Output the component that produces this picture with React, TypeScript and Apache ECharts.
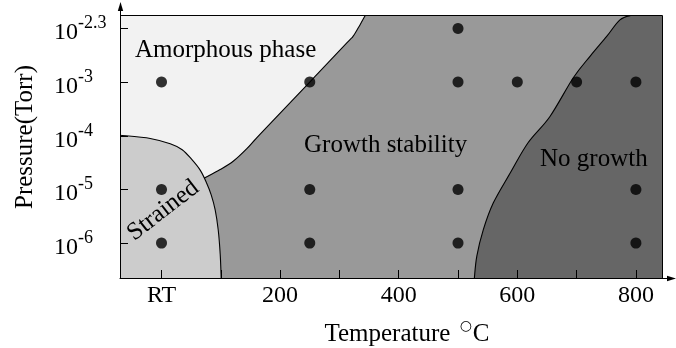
import React, { useEffect, useRef } from 'react';
import * as echarts from 'echarts';

// Axis ticks / labels
const xLabelValues = [0, 200, 400, 600, 800];
const xLabelTexts = ['RT', '200', '400', '600', '800'];
const xTickValues = [0, 100, 200, 300, 400, 500, 600, 700, 800];
const yLevels = [0, 1, 2, 3, 4];
const yExponents = ['-6', '-5', '-4', '-3', '-2.3'];

// Axis extents (temperature °C, pressure level index)
const xMin = -70;
const xMax = 844;
const yMin = -0.65;
const yMax = 4.25;

// Experimental sample points
const sampleTemps = [0, 0, 0, 250, 250, 250, 500, 500, 500, 500, 600, 700, 800, 800, 800];
const sampleLevels = [3, 1, 0, 3, 1, 0, 4, 3, 1, 0, 3, 3, 3, 1, 0];

// Phase boundaries [temperature, pressure level]
const strainedEdge = [
  [-70, 2.01], [-19, 1.95], [14.7, 1.85], [34.9, 1.74], [51.7, 1.55], [65.2, 1.36],
  [75.3, 1.14], [83.8, 0.9], [90.5, 0.62], [95.6, 0.25], [99, -0.21], [100.6, -0.65],
];
const amorphousEdge = [
  [72, 1.21], [98.9, 1.37], [121.4, 1.53], [143.9, 1.76], [166.4, 2.03], [250, 3.0],
  [312.5, 3.73], [323.6, 3.86], [334.9, 4.07], [344, 4.25],
];
const noGrowthEdge = [
  [527.6, -0.65], [531.6, -0.25], [542.7, 0.25], [559.6, 0.75], [587.7, 1.3], [618.1, 1.87],
  [655.1, 2.36], [694.4, 3.08], [722.6, 3.48], [750.7, 3.85], [773.1, 4.16], [794, 4.25],
];

const regionColors = { amorphous: '#f2f2f2', strained: '#cccccc', growth: '#999999', noGrowth: '#666666' };

const FONT = '"Liberation Serif", "Times New Roman", serif';

function curveThrough(pts: number[][]): string {
  let d = '';
  for (let i = 0; i < pts.length - 1; i++) {
    const p0 = pts[i - 1] || pts[i];
    const p1 = pts[i];
    const p2 = pts[i + 1];
    const p3 = pts[i + 2] || p2;
    const c1x = p1[0] + (p2[0] - p0[0]) / 6;
    const c1y = p1[1] + (p2[1] - p0[1]) / 6;
    const c2x = p2[0] - (p3[0] - p1[0]) / 6;
    const c2y = p2[1] - (p3[1] - p1[1]) / 6;
    d += ` C ${c1x} ${c1y} ${c2x} ${c2y} ${p2[0]} ${p2[1]}`;
  }
  return d;
}

function renderRegions(params: any, api: any) {
  const c = (p: number[]) => api.coord(p) as number[];
  const pt = (p: number[]) => `${p[0]} ${p[1]}`;

  const sPx = strainedEdge.map(c);
  const aPx = amorphousEdge.map(c);
  const nPx = noGrowthEdge.map(c);
  const junction = amorphousEdge[0];
  const lowerStrained = strainedEdge.filter((p) => p[1] < junction[1]).reverse();
  const lowerPx = [...lowerStrained, junction].map(c);

  const strainedPath = `M ${pt(c([xMin, yMin]))} L ${pt(sPx[0])}${curveThrough(sPx)} Z`;
  const growthPath =
    `M ${pt(aPx[0])}${curveThrough(aPx)} L ${pt(c([xMax, yMax]))} L ${pt(c([xMax, yMin]))} L ${pt(lowerPx[0])}${curveThrough(lowerPx)} Z`;
  const noGrowthPath = `M ${pt(nPx[0])}${curveThrough(nPx)} L ${pt(c([xMax, yMax]))} L ${pt(c([xMax, yMin]))} Z`;

  const edge = (px: number[][]) => ({
    type: 'path',
    shape: { pathData: `M ${pt(px[0])}${curveThrough(px)}` },
    style: { fill: 'none', stroke: '#000', lineWidth: 1.1 },
  });

  return {
    type: 'group',
    children: [
      { type: 'path', shape: { pathData: strainedPath }, style: { fill: regionColors.strained } },
      { type: 'path', shape: { pathData: growthPath }, style: { fill: regionColors.growth } },
      { type: 'path', shape: { pathData: noGrowthPath }, style: { fill: regionColors.noGrowth } },
      edge(sPx),
      edge(aPx),
      edge(nPx),
    ],
  };
}

const textStyleBase = { fontFamily: FONT, fill: '#000' };

const option: any = {
  animation: false,
  grid: {
    left: 120, top: 15, width: 542, height: 263,
    show: true, backgroundColor: regionColors.amorphous, borderWidth: 0,
  },
  xAxis: {
    type: 'value', min: xMin, max: xMax, z: 10,
    axisLine: { onZero: false, lineStyle: { color: '#000', width: 1 } },
    axisTick: { inside: true, length: 8, customValues: xTickValues, lineStyle: { color: '#000' } },
    axisLabel: {
      customValues: xLabelValues, margin: 4, fontSize: 24, color: '#000', fontFamily: FONT,
      formatter: (v: number) => xLabelTexts[xLabelValues.indexOf(v)],
    },
    splitLine: { show: false },
  },
  yAxis: {
    type: 'value', min: yMin, max: yMax, z: 10,
    axisLine: { show: true, onZero: false, lineStyle: { color: '#000', width: 1 } },
    axisTick: { show: true, inside: true, length: 8, customValues: yLevels, lineStyle: { color: '#000' } },
    axisLabel: {
      customValues: yLevels, align: 'left', margin: 66,
      formatter: (v: number) => `{b|10}{s|${yExponents[yLevels.indexOf(v)]}}`,
      rich: {
        b: { fontSize: 24, fontFamily: FONT, color: '#000', padding: [6, 0, 0, 0] },
        s: { fontSize: 18, fontFamily: FONT, color: '#000', verticalAlign: 'top' },
      },
    },
    splitLine: { show: false },
  },
  series: [
    {
      type: 'custom',
      renderItem: renderRegions,
      data: [0],
      clip: true,
      z: 1,
      silent: true,
    },
    {
      type: 'scatter',
      data: sampleTemps.map((t, i) => [t, sampleLevels[i]]),
      symbol: 'circle',
      symbolSize: 11,
      itemStyle: { color: '#000' },
      z: 5,
      silent: true,
    },
  ],
  graphic: [
    { type: 'line', z: 100, shape: { x1: 120, y1: 15.5, x2: 662.5, y2: 15.5 }, style: { stroke: '#000', lineWidth: 1 } },
    { type: 'line', z: 100, shape: { x1: 662.5, y1: 15.5, x2: 662.5, y2: 278 }, style: { stroke: '#000', lineWidth: 1 } },
    { type: 'line', z: 100, shape: { x1: 120.5, y1: 16, x2: 120.5, y2: 8 }, style: { stroke: '#000', lineWidth: 1 } },
    { type: 'polygon', z: 100, shape: { points: [[120.5, 2], [117.8, 11], [123.2, 11]] }, style: { fill: '#000' } },
    { type: 'line', z: 100, shape: { x1: 662, y1: 278.5, x2: 670, y2: 278.5 }, style: { stroke: '#000', lineWidth: 1 } },
    { type: 'polygon', z: 100, shape: { points: [[676, 278.5], [667, 275.8], [667, 281.2]] }, style: { fill: '#000' } },
    { type: 'text', z: 100, x: 135, y: 48, style: { ...textStyleBase, text: 'Amorphous phase', fontSize: 25, textVerticalAlign: 'middle' } },
    { type: 'text', z: 100, x: 304, y: 143, style: { ...textStyleBase, text: 'Growth stability', fontSize: 25, textVerticalAlign: 'middle' } },
    { type: 'text', z: 100, x: 540, y: 157, style: { ...textStyleBase, text: 'No growth', fontSize: 25, textVerticalAlign: 'middle' } },
    {
      type: 'text', z: 100, x: 162, y: 209, rotation: 0.656,
      style: { ...textStyleBase, text: 'Strained', fontSize: 25, textAlign: 'center', textVerticalAlign: 'middle' },
    },
    {
      type: 'text', z: 100, x: 23, y: 137, rotation: Math.PI / 2,
      style: { ...textStyleBase, text: 'Pressure(Torr)', fontSize: 25, textAlign: 'center', textVerticalAlign: 'middle' },
    },
    {
      type: 'text', z: 100, x: 407, y: 332,
      style: {
        text: '{a|Temperature }{o|○}{a|C}', textAlign: 'center', textVerticalAlign: 'middle',
        rich: {
          a: { fontSize: 25, fontFamily: FONT, color: '#000', lineHeight: 28 },
          o: { fontSize: 14, fontFamily: '"DejaVu Sans", sans-serif', color: '#000', verticalAlign: 'top', lineHeight: 14, padding: [0, 1, 0, 3] },
        },
      },
    },
  ],
};

export default function App() {
  const ref = useRef<HTMLDivElement>(null);
  useEffect(() => {
    const chart = echarts.init(ref.current!, null, { renderer: 'svg' });
    chart.setOption(option);
    return () => chart.dispose();
  }, []);
  return <div ref={ref} style={{ position: 'fixed', left: 0, top: 0, width: 676, height: 348 }} />;
}
